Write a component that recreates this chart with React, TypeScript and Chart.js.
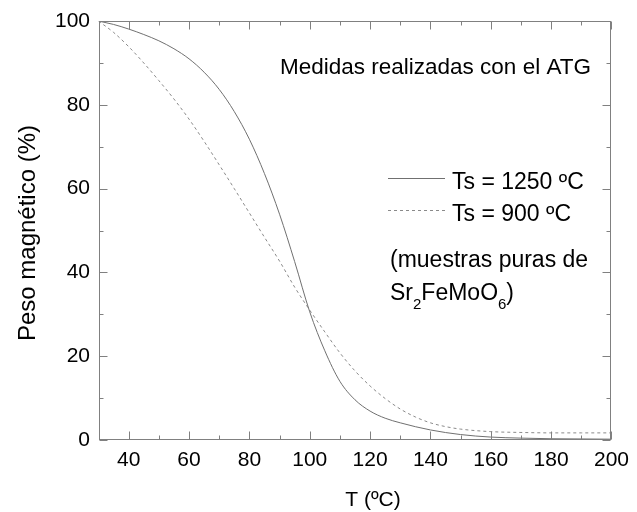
import { useEffect, useRef } from "react";
import { Chart, registerables } from "chart.js";

Chart.register(...registerables);

// Magnetic weight (%) vs temperature, for two sintering temperatures
const temps1250 = [30, 35, 40, 45, 50, 55, 60, 65, 70, 75, 80, 85, 90, 95, 100, 105, 110, 115, 120, 125, 130, 140, 150, 160, 170, 180, 190, 200];
const peso1250 = [100, 99.2, 98.1, 96.8, 95.3, 93.4, 91.0, 87.8, 83.7, 78.4, 71.8, 63.6, 53.9, 42.6, 30.6, 21.3, 14.0, 9.6, 6.9, 5.2, 4.1, 2.4, 1.3, 0.7, 0.45, 0.3, 0.25, 0.2];

const temps900 = [30, 35, 40, 45, 50, 55, 60, 65, 70, 75, 80, 85, 90, 95, 100, 105, 110, 115, 120, 125, 130, 135, 140, 145, 150, 160, 170, 180, 190, 200];
const peso900 = [100, 97.3, 93.9, 90.0, 85.8, 81.4, 76.6, 71.3, 65.7, 60.0, 54.2, 48.4, 42.7, 36.5, 31.0, 25.8, 20.8, 16.5, 12.9, 9.9, 7.4, 5.5, 4.1, 3.2, 2.6, 2.0, 1.8, 1.7, 1.7, 1.7];

const seriesLabels = ["Ts = 1250 ºC", "Ts = 900 ºC"];
const xMinorTicks = [50, 70, 90, 110, 130, 150, 170, 190];
const yMinorTicks = [10, 30, 50, 70, 90];

const FONT = "'Liberation Sans', Arial, sans-serif";
const AXIS_GREY = "#808080";

const framePlugin = {
  id: "frame",
  afterDraw(chart: any) {
    const { ctx, chartArea } = chart;
    const xs = chart.scales.x;
    const ys = chart.scales.y;
    const L = Math.round(chartArea.left) + 0.5;
    const R = Math.round(chartArea.right) - 0.5;
    const T = Math.round(chartArea.top) + 0.5;
    const B = Math.round(chartArea.bottom) - 0.5;
    ctx.save();
    ctx.strokeStyle = AXIS_GREY;
    ctx.lineWidth = 1;
    ctx.strokeRect(L, T, R - L, B - T);
    ctx.beginPath();
    const xTick = (v: number, len: number) => {
      const p = Math.round(xs.getPixelForValue(v)) + 0.5;
      ctx.moveTo(p, B);
      ctx.lineTo(p, B - len);
      ctx.moveTo(p, T);
      ctx.lineTo(p, T + len);
    };
    const yTick = (v: number, len: number) => {
      const p = Math.round(ys.getPixelForValue(v)) + 0.5;
      ctx.moveTo(L, p);
      ctx.lineTo(L + len, p);
      ctx.moveTo(R, p);
      ctx.lineTo(R - len, p);
    };
    xs.ticks.forEach((t: any) => xTick(t.value, 8));
    ys.ticks.forEach((t: any) => yTick(t.value, 8));
    xMinorTicks.forEach((v) => xTick(v, 4));
    yMinorTicks.forEach((v) => yTick(v, 4));
    ctx.stroke();
    ctx.restore();
  },
};

const textPlugin = {
  id: "texts",
  afterDraw(chart: any) {
    const { ctx } = chart;
    const ds = chart.data.datasets;
    ctx.save();
    ctx.fillStyle = "#000";
    ctx.textBaseline = "alphabetic";

    // axis titles
    ctx.font = `21px ${FONT}`;
    ctx.textAlign = "center";
    ctx.fillText("T (ºC)", 373, 506);
    ctx.save();
    ctx.translate(35, 233);
    ctx.rotate(-Math.PI / 2);
    ctx.font = `24px ${FONT}`;
    ctx.fillText("Peso magnético (%)", 0, 0);
    ctx.restore();

    ctx.textAlign = "left";
    ctx.font = `22.5px ${FONT}`;
    ctx.fillText("Medidas realizadas con el ATG", 280, 74);

    // legend
    const legendY = [178, 210];
    ctx.font = `23px ${FONT}`;
    ds.forEach((d: any, i: number) => {
      ctx.save();
      ctx.strokeStyle = d.borderColor;
      ctx.lineWidth = d.borderWidth;
      ctx.setLineDash(d.borderDash || []);
      ctx.beginPath();
      ctx.moveTo(388, legendY[i] + 0.5);
      ctx.lineTo(445, legendY[i] + 0.5);
      ctx.stroke();
      ctx.restore();
      ctx.fillText(seriesLabels[i], 452, legendY[i] + 10.5);
    });

    // sample note
    ctx.fillText("(muestras puras de", 390, 267);
    let x = 390;
    const parts: [string, boolean][] = [["Sr", false], ["2", true], ["FeMoO", false], ["6", true], [")", false]];
    parts.forEach(([s, sub]) => {
      ctx.font = sub ? `15px ${FONT}` : `23px ${FONT}`;
      ctx.fillText(s, x, sub ? 309 : 300);
      x += ctx.measureText(s).width;
    });
    ctx.restore();
  },
};

export default function App() {
  const canvasRef = useRef<HTMLCanvasElement | null>(null);

  useEffect(() => {
    if (!canvasRef.current) return;
    const chart = new Chart(canvasRef.current, {
      type: "line",
      data: {
        datasets: [
          {
            label: seriesLabels[0],
            data: temps1250.map((t, i) => ({ x: t, y: peso1250[i] })),
            borderColor: "#707070",
            borderWidth: 1,
            pointRadius: 0,
            cubicInterpolationMode: "monotone",
            fill: false,
          },
          {
            label: seriesLabels[1],
            data: temps900.map((t, i) => ({ x: t, y: peso900[i] })),
            borderColor: "#8a8a8a",
            borderWidth: 1,
            borderDash: [3, 3],
            pointRadius: 0,
            cubicInterpolationMode: "monotone",
            fill: false,
          },
        ],
      },
      options: {
        responsive: false,
        animation: false,
        layout: { padding: { top: 20, right: 22.5, left: 0, bottom: 0 } },
        plugins: { legend: { display: false }, tooltip: { enabled: false } },
        scales: {
          x: {
            type: "linear",
            min: 30,
            max: 200,
            grid: { display: false, drawTicks: false },
            border: { display: false },
            ticks: {
              stepSize: 20,
              includeBounds: false,
              autoSkip: false,
              maxRotation: 0,
              padding: 8,
              color: "#000",
              font: { family: FONT, size: 21 },
            },
            afterFit: (s: any) => {
              s.height = 72;
            },
          },
          y: {
            type: "linear",
            min: 0,
            max: 100,
            grid: { display: false, drawTicks: false },
            border: { display: false },
            ticks: {
              stepSize: 20,
              autoSkip: false,
              padding: 8.5,
              color: "#000",
              font: { family: FONT, size: 21 },
            },
            afterFit: (s: any) => {
              s.width = 98.5;
            },
          },
        },
      },
      plugins: [framePlugin, textPlugin],
    } as any);
    return () => chart.destroy();
  }, []);

  return (
    <div style={{ position: "absolute", left: 0, top: 0, width: 637, height: 512, background: "#fff" }}>
      <canvas ref={canvasRef} width={637} height={512} style={{ display: "block" }} />
    </div>
  );
}
